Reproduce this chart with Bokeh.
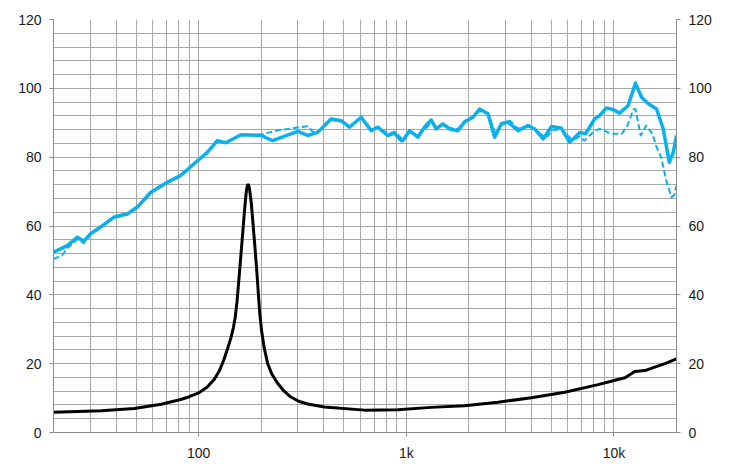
from bokeh.plotting import figure
from bokeh.models import FixedTicker, LinearAxis, Range1d
from bokeh.embed import file_html
from bokeh.resources import INLINE

# Impedance (black)
imp_f = [20, 34, 49, 66, 82, 90, 100, 110, 119, 126, 132, 138, 143, 147, 150, 153,
         156, 159, 162, 165, 168, 170, 172, 174, 176, 179, 182, 185, 188, 191, 194,
         197, 201, 207, 215, 225, 240, 258, 278, 305, 335, 403, 628, 910, 1318,
         1906, 2761, 4000, 5792, 8390, 10000, 11300, 12600, 14100, 15700, 17600,
         20000]
imp_v = [5.9, 6.3, 7.0, 8.2, 9.6, 10.4, 11.5, 13.2, 15.5, 18.0, 21.0, 24.5, 27.5,
         30.5, 33.5, 38.0, 44.0, 50.0, 56.0, 62.0, 67.5, 70.5, 71.9, 71.9, 70.5,
         67.0, 62.0, 56.7, 51.5, 46.0, 40.0, 34.5, 29.5, 24.5, 20.0, 17.0, 14.3,
         12.0, 10.3, 9.0, 8.3, 7.4, 6.5, 6.6, 7.3, 7.8, 8.8, 10.1, 11.7, 13.9,
         15.1, 15.9, 17.7, 18.0, 19.0, 20.0, 21.4]

# SPL solid (blue)
spl_f = [20, 23.3, 26, 28, 30.1, 33.7, 39.1, 45.3, 50.7, 58.8, 70.7, 82, 95, 110,
         123, 135, 160, 200, 227, 300, 335, 374, 434, 485, 532, 606, 677, 728,
         814, 877, 945, 962, 1036, 1136, 1223, 1318, 1393, 1500, 1617, 1772, 1906,
         2093, 2254, 2473, 2663, 2867, 3090, 3451, 3856, 4150, 4560, 5000, 5560,
         6120, 6840, 7300, 8070, 8530, 9200, 9910, 10660, 11700, 12690, 13570,
         14630, 16040, 17270, 18460, 19300, 20000]
spl_v = [52.4, 54.3, 56.7, 55.6, 57.7, 59.7, 62.6, 63.5, 65.5, 69.8, 72.7, 74.7,
         78.1, 81.4, 84.8, 84.2, 86.5, 86.3, 84.8, 87.5, 86.3, 87.2, 91.1, 90.6,
         88.7, 91.6, 87.7, 88.7, 86.3, 87.0, 84.8, 84.8, 87.7, 85.8, 88.7, 90.8,
         88.2, 89.7, 88.2, 87.7, 90.2, 91.6, 94.0, 92.6, 85.8, 89.7, 90.2, 87.7,
         89.2, 88.2, 85.3, 88.9, 88.5, 84.3, 87.2, 86.8, 91.1, 92.1, 94.3, 93.8,
         92.8, 95.0, 101.5, 97.4, 95.5, 94.0, 88.2, 78.5, 81.4, 86.3]

# SPL dashed (blue)
spl2_f = [20, 22, 23.3, 26, 28, 30.1, 33.7, 39.1, 45.3, 50.7, 58.8, 70.7, 82, 95,
          110, 123, 135, 160, 200, 240, 300, 335, 360, 374, 434, 485, 532, 606,
          677, 728, 814, 877, 945, 962, 1036, 1136, 1223, 1318, 1393, 1500, 1617,
          1772, 1906, 2093, 2254, 2473, 2700, 2900, 3150, 3450, 3856, 4150, 4700,
          5100, 5600, 6300, 6840, 7200, 8070, 8530, 9400, 9910, 10900, 11600,
          12400, 12690, 13450, 14300, 15300, 16040, 16900, 17860, 18900, 19500,
          20000]
spl2_v = [50.4, 51.5, 53.5, 56.2, 55.0, 57.5, 59.5, 62.4, 63.3, 65.3, 69.6, 72.5,
          74.5, 78.0, 81.3, 84.6, 84.3, 86.4, 86.6, 87.8, 88.6, 89.0, 87.0, 87.4,
          90.8, 90.4, 88.9, 91.3, 88.0, 88.9, 86.8, 87.4, 85.6, 85.4, 87.3, 86.2,
          88.0, 90.0, 88.6, 89.4, 88.5, 88.2, 90.5, 91.8, 93.4, 92.6, 86.5, 89.5,
          90.6, 88.3, 88.9, 88.0, 85.6, 88.0, 88.0, 85.0, 86.0, 84.8, 87.7, 88.2,
          87.2, 86.8, 86.8, 89.2, 93.8, 94.0, 86.3, 89.2, 86.8, 82.9, 79.8, 73.2,
          68.4, 68.9, 71.8]

x_major = [100, 1000, 10000]
x_labels = {100: "100", 1000: "1k", 10000: "10k"}
x_minor = [20, 30, 40, 50, 60, 70, 80, 90, 200, 300, 400, 500, 600, 700, 800, 900,
           2000, 3000, 4000, 5000, 6000, 7000, 8000, 9000, 20000]
y_major = [0, 20, 40, 60, 80, 100, 120]
y_minor = list(range(0, 121, 4))

GRID = "#a8a8a8"
AX = "#8c8c8c"
BLUE = "#0AB0EC"
FONT = "Liberation Sans"

p = figure(width=733, height=464, x_axis_type="log", output_backend="svg",
           toolbar_location=None, x_range=Range1d(20, 20000), y_range=Range1d(0, 120),
           min_border_left=53, min_border_right=57, min_border_top=19,
           min_border_bottom=32)
p.outline_line_color = None
p.background_fill_color = "white"

p.xaxis.ticker = FixedTicker(ticks=x_major, minor_ticks=x_minor)
p.xaxis.major_label_overrides = x_labels
p.yaxis.ticker = FixedTicker(ticks=y_major, minor_ticks=y_minor)

raxis = LinearAxis(ticker=FixedTicker(ticks=y_major, minor_ticks=y_minor))
p.add_layout(raxis, "right")

for ax in [p.xaxis[0], p.yaxis[0], raxis]:
    ax.axis_line_color = AX
    ax.major_tick_line_color = AX
    ax.minor_tick_line_color = None
    ax.major_tick_out = 4
    ax.major_tick_in = 0
    ax.major_label_text_font = FONT
    ax.major_label_text_font_size = "14px"
    ax.major_label_text_color = "#1a1a1a"
    ax.major_label_standoff = 8

for g in [p.xgrid[0], p.ygrid[0]]:
    g.grid_line_color = GRID
    g.minor_grid_line_color = GRID
    g.grid_line_width = 1
    g.minor_grid_line_width = 1

p.line(spl2_f, spl2_v, line_color=BLUE, line_width=2, line_dash="6 3",
       line_join="round")
p.line(spl_f, spl_v, line_color=BLUE, line_width=3.5, line_join="round")
p.line(imp_f, imp_v, line_color="black", line_width=3, line_join="round")

open("out.html", "w").write(file_html(p, INLINE))
